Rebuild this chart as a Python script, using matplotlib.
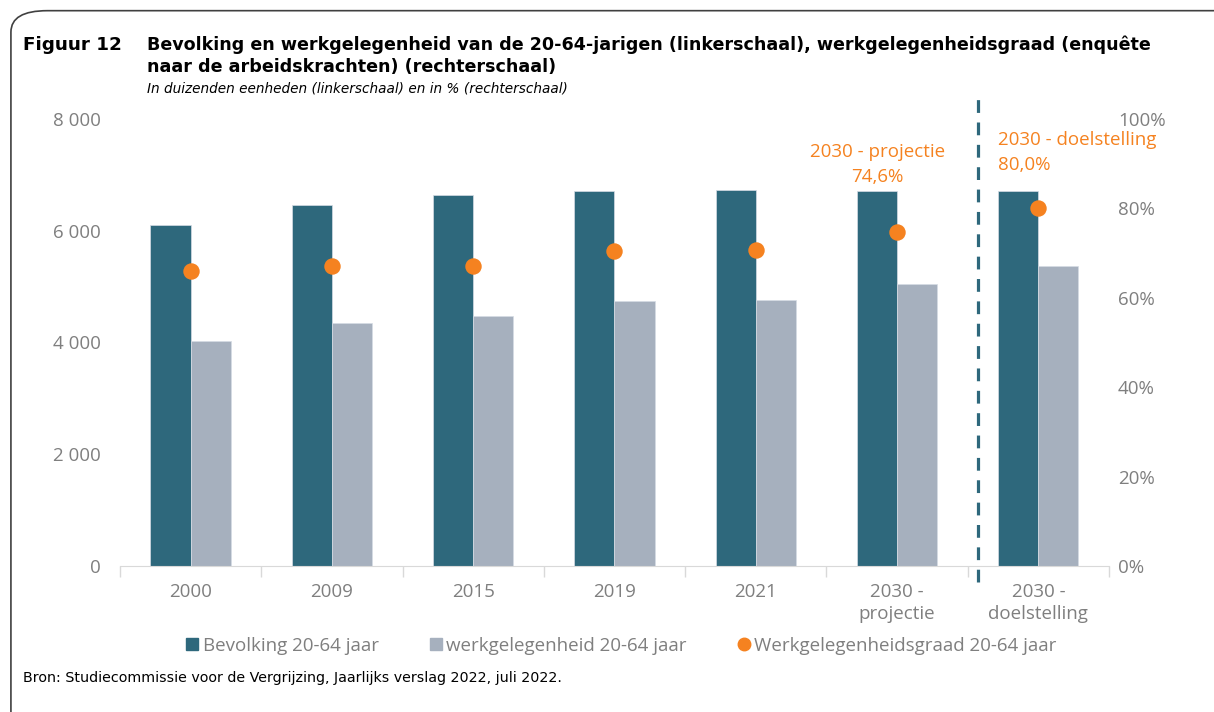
import matplotlib.pyplot as plt
from matplotlib.patches import FancyBboxPatch
from matplotlib.lines import Line2D
import numpy as np

# Gegevens
categorieen = ["2000", "2009", "2015", "2019", "2021", "2030 -\nprojectie", "2030 -\ndoelstelling"]
bevolking = [6100, 6460, 6640, 6710, 6725, 6710, 6710]
werkgelegenheid = [4025, 4345, 4470, 4740, 4755, 5045, 5365]
werkgelegenheidsgraad = [65.9, 67.1, 67.1, 70.5, 70.6, 74.6, 80.0]

links_ticks = [0, 2000, 4000, 6000, 8000]
links_labels = ["0", "2 000", "4 000", "6 000", "8 000"]
rechts_ticks = [0, 20, 40, 60, 80, 100]
rechts_labels = ["0%", "20%", "40%", "60%", "80%", "100%"]

kleur_bev = "#2E687C"
kleur_werk = "#A6B0BE"
kleur_graad = "#F58220"
kleur_tekst = "#7F7F7F"
lettertype = ["Open Sans", "DejaVu Sans"]

fig = plt.figure(figsize=(12.14, 7.12), dpi=100)

# Kader rond de figuur
kader = FancyBboxPatch((0.009, -0.05), 1.2, 1.035, boxstyle="round,pad=0,rounding_size=0.03",
                       transform=fig.transFigure, fill=False, edgecolor="#404040", linewidth=1.2)
fig.patches.append(kader)

ax = fig.add_axes([0.0988, 0.205, 0.8147, 0.628])
x = np.arange(len(categorieen))
breedte = 0.284
ax.bar(x - breedte / 2, bevolking, breedte, color=kleur_bev, edgecolor="#D6DCE4", linewidth=0.5)
ax.bar(x + breedte / 2, werkgelegenheid, breedte, color=kleur_werk, edgecolor="#D6DCE4", linewidth=0.5)
ax.set_xlim(-0.5, len(categorieen) - 0.5)
ax.set_ylim(0, 8000)
ax.set_yticks(links_ticks)
ax.set_yticklabels(links_labels, family=lettertype, fontsize=13.5, color=kleur_tekst)
ax.tick_params(axis="y", length=0, pad=14)

ax.set_xticks(x)
ax.set_xticklabels(categorieen, family=lettertype, fontsize=13.5, color=kleur_tekst, linespacing=1.3)
ax.set_xticks(np.arange(len(categorieen) + 1) - 0.5, minor=True)
ax.tick_params(axis="x", which="major", length=0, pad=12)
ax.tick_params(axis="x", which="minor", length=8, color="#D9D9D9", width=1)

for kant in ["top", "right", "left"]:
    ax.spines[kant].set_visible(False)
ax.spines["bottom"].set_color("#D9D9D9")

ax2 = ax.twinx()
ax2.scatter(x, werkgelegenheidsgraad, s=140, color=kleur_graad, zorder=5, linewidths=0)
ax2.set_ylim(0, 100)
ax2.set_yticks(rechts_ticks)
ax2.set_yticklabels(rechts_labels, family=lettertype, fontsize=13.5, color=kleur_tekst)
ax2.tick_params(axis="y", length=0, pad=6.5)
for kant in ["top", "right", "left", "bottom"]:
    ax2.spines[kant].set_visible(False)

# Scheidingslijn
ax.axvline(5.57, ymin=-0.035, ymax=1.045, color=kleur_bev, linestyle=(0, (4, 3)),
           linewidth=2.3, clip_on=False)

# Annotaties
ax2.text(4.86, 89.7, "2030 - projectie\n74,6%", ha="center", va="center", family=lettertype,
         fontsize=13.5, color=kleur_graad, linespacing=1.5)
ax2.text(5.716, 92.5, "2030 - doelstelling\n80,0%", ha="left", va="center", family=lettertype,
         fontsize=13.5, color=kleur_graad, linespacing=1.5)

# Titel
fig.text(0.019, 0.937, "Figuur 12", fontsize=13.2, fontweight="bold", family="DejaVu Sans", va="center")
fig.text(0.121, 0.937, "Bevolking en werkgelegenheid van de 20-64-jarigen (linkerschaal), werkgelegenheidsgraad (enquête",
         fontsize=12.6, fontweight="bold", family="DejaVu Sans", va="center")
fig.text(0.121, 0.906, "naar de arbeidskrachten) (rechterschaal)",
         fontsize=12.6, fontweight="bold", family="DejaVu Sans", va="center")
fig.text(0.121, 0.876, "In duizenden eenheden (linkerschaal) en in % (rechterschaal)",
         fontsize=9.8, style="italic", family="DejaVu Sans", va="center")

# Legende
handles = [
    Line2D([], [], marker="s", linestyle="none", markersize=9, color=kleur_bev),
    Line2D([], [], marker="s", linestyle="none", markersize=9, color=kleur_werk),
    Line2D([], [], marker="o", linestyle="none", markersize=9, color=kleur_graad),
]
labels = ["Bevolking 20-64 jaar", "werkgelegenheid 20-64 jaar", "Werkgelegenheidsgraad 20-64 jaar"]
leg = fig.legend(handles, labels, loc="center", bbox_to_anchor=(0.511, 0.093), ncol=3, frameon=False,
                 prop={"family": lettertype, "size": 13.5}, handletextpad=0.1, columnspacing=2.6,
                 handlelength=0.9)
for t in leg.get_texts():
    t.set_color(kleur_tekst)

# Bron
fig.text(0.019, 0.048, "Bron: Studiecommissie voor de Vergrijzing, Jaarlijks verslag 2022, juli 2022.",
         fontsize=10.3, family="DejaVu Sans", va="center")

fig.savefig("out.png", dpi=100)
